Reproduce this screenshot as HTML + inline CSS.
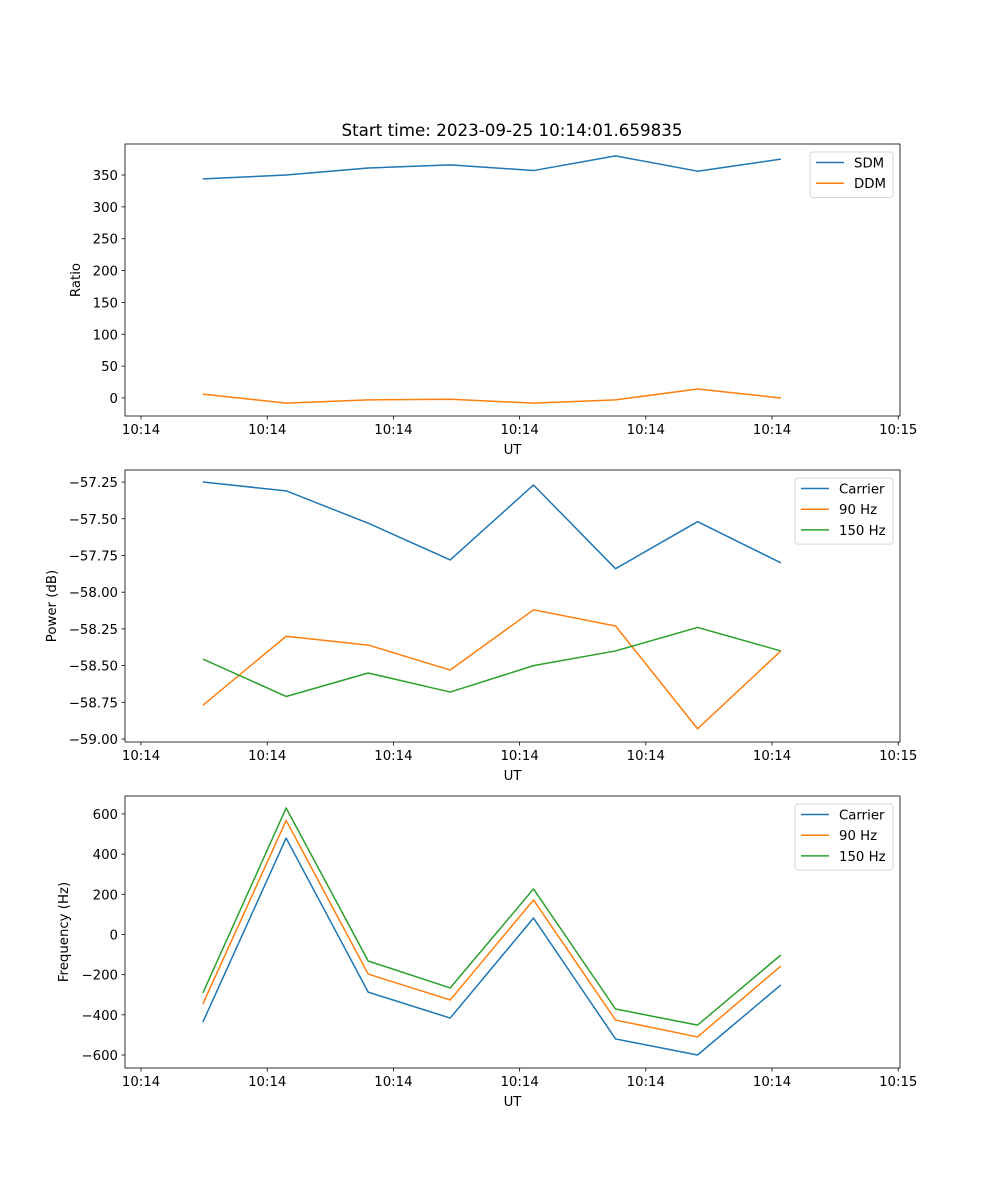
<!DOCTYPE html>
<html><head><meta charset="utf-8">
<style>
body{margin:0;background:#fff;}
svg{display:block;font-family:"DejaVu Sans","Liberation Sans",sans-serif;}
</style></head>
<body>
<svg id="fig" width="1000" height="1200" viewBox="0 0 1000 1200" xmlns="http://www.w3.org/2000/svg">
<rect width="1000" height="1200" fill="#fff"/>
<text x="512" y="136" font-size="16.7" text-anchor="middle">Start time: 2023-09-25 10:14:01.659835</text>
</svg>
<script>
// time in seconds after 10:14:00
const times = [4.9, 11.5, 18.0, 24.5, 31.1, 37.6, 44.1, 50.7];
const xTickVals = [0, 10, 20, 30, 40, 50, 60];
const xTickLabels = ["10:14","10:14","10:14","10:14","10:14","10:14","10:15"];

const sdm = [344, 350, 361, 366, 357, 380, 356, 375];
const ddm = [6, -8, -3, -2, -8, -3, 14, 0];
const ratioTicks = [0, 50, 100, 150, 200, 250, 300, 350];

const powCarrier = [-57.25, -57.31, -57.53, -57.78, -57.27, -57.84, -57.52, -57.80];
const pow90 = [-58.77, -58.30, -58.36, -58.53, -58.12, -58.23, -58.93, -58.40];
const pow150 = [-58.455, -58.71, -58.55, -58.68, -58.50, -58.40, -58.24, -58.40];
const powTicks = [-59.00, -58.75, -58.50, -58.25, -58.00, -57.75, -57.50, -57.25];

const freqCarrier = [-436, 480, -287, -416, 82, -520, -600, -251];
const freq90 = [-346, 568, -197, -326, 172, -426, -510, -157];
const freq150 = [-291, 630, -132, -266, 227, -371, -451, -102];
const freqTicks = [-600, -400, -200, 0, 200, 400, 600];

const NS = "http://www.w3.org/2000/svg";
const fig = document.getElementById("fig");
function mk(tag, attrs, parent){
  const e = document.createElementNS(NS, tag);
  for (const k in attrs) e.setAttribute(k, attrs[k]);
  (parent||fig).appendChild(e); return e;
}
const L = 125, R = 900;
const xMin = -1.27, xMax = 60.14;
const xs = v => L + (v - xMin) / (xMax - xMin) * (R - L);
const colors = {blue:"#1f77b4", orange:"#ff7f0e", green:"#2ca02c"};
const FS = 13.3;

function panel(name, top, bottom, yMin, yMax, yTicks, yFmt, yLabel, series, legend){
  const g = mk("g", {});
  
  
  const ys = v => bottom - (v - yMin) / (yMax - yMin) * (bottom - top);
  series.forEach(s => {
    const pts = times.map((t,i) => xs(t).toFixed(2)+","+ys(s.vals[i]).toFixed(2)).join(" ");
    const p = mk("polyline", {points: pts, fill:"none", stroke:s.color, "stroke-width":1.5, "stroke-linejoin":"round"}, g);
    
    
  });
  const frame = mk("rect", {x:L, y:top, width:R-L, height:bottom-top, fill:"none", stroke:"#000", "stroke-width":0.8}, g);
  
  
  xTickVals.forEach((v,i) => {
    const x = xs(v);
    mk("line", {x1:x, x2:x, y1:bottom, y2:bottom+3.5, stroke:"#000", "stroke-width":0.8}, g);
    const t = mk("text", {x:x, y:bottom+18, "font-size":FS, "text-anchor":"middle"}, g);
    
    
    t.textContent = xTickLabels[i];
  });
  yTicks.forEach(v => {
    const y = ys(v);
    mk("line", {x1:L-3.5, x2:L, y1:y, y2:y, stroke:"#000", "stroke-width":0.8}, g);
    const t = mk("text", {x:L-7, y:y+5, "font-size":FS, "text-anchor":"end"}, g);
    
    
    t.textContent = yFmt(v);
  });
  const xl = mk("text", {x:(L+R)/2, y:bottom+38, "font-size":FS, "text-anchor":"middle"}, g);
  
  
  xl.textContent = "UT";
  const yx = legend.ylabelX, yc = (top+bottom)/2;
  const yl = mk("text", {x:yx, y:yc, "font-size":FS, "text-anchor":"middle", transform:`rotate(-90 ${yx} ${yc})`}, g);
  
  
  yl.textContent = yLabel;
  const lw = legend.w, lh = 4 + series.length*20.7;
  const lx = R - 7 - lw, ly = top + 8;
  const box = mk("rect", {x:lx, y:ly, width:lw, height:lh, rx:3, fill:"#fff", "fill-opacity":0.8, stroke:"#ccc", "stroke-width":0.8}, g);
  
  
  series.forEach((s,i) => {
    const cy = ly + 10.5 + i*20.7;
    mk("line", {x1:lx+6, x2:lx+34, y1:cy, y2:cy, stroke:s.color, "stroke-width":1.5}, g);
    const t = mk("text", {x:lx+44, y:cy+5, "font-size":FS}, g);
    
    
    t.textContent = s.label;
  });
}

panel("ratio-panel", 144, 416, -28.3, 398.7, ratioTicks, v=>String(v), "Ratio",
  [{name:"sdm-line", vals:sdm, color:colors.blue, label:"SDM"},
   {name:"ddm-line", vals:ddm, color:colors.orange, label:"DDM"}],
  {w:83, ylabelX:80});
panel("power-panel", 470, 742, -59.02, -57.168, powTicks, v=>"\u2212"+Math.abs(v).toFixed(2), "Power (dB)",
  [{name:"power-carrier-line", vals:powCarrier, color:colors.blue, label:"Carrier"},
   {name:"power-90hz-line", vals:pow90, color:colors.orange, label:"90 Hz"},
   {name:"power-150hz-line", vals:pow150, color:colors.green, label:"150 Hz"}],
  {w:98, ylabelX:56});
panel("frequency-panel", 796, 1068, -664.7, 689.6, freqTicks, v=>(v<0?"\u2212":"")+Math.abs(v), "Frequency (Hz)",
  [{name:"freq-carrier-line", vals:freqCarrier, color:colors.blue, label:"Carrier"},
   {name:"freq-90hz-line", vals:freq90, color:colors.orange, label:"90 Hz"},
   {name:"freq-150hz-line", vals:freq150, color:colors.green, label:"150 Hz"}],
  {w:98, ylabelX:68});
</script>
</body></html>
